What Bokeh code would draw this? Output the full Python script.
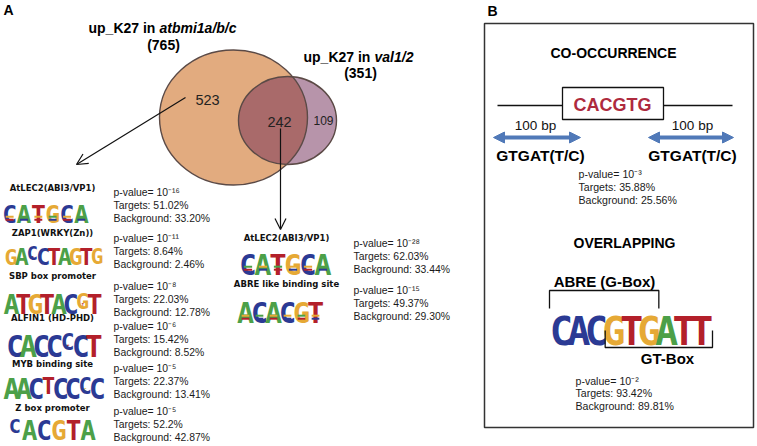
import numpy as np
from bokeh.plotting import figure
from bokeh.models import ColumnDataSource, Range1d, Arrow, OpenHead, NormalHead
from bokeh.core.properties import value, field
from bokeh.embed import file_html
from bokeh.resources import INLINE

# ---------------- data ----------------
venn_names = ["atbmi1a/b/c", "val1/2"]
venn_totals = [765, 351]
venn_only_a = 523
venn_both = 242
venn_only_b = 109

left_names = ["AtLEC2(ABI3/VP1)", "ZAP1(WRKY(Zn))", "SBP box promoter",
              "ALFIN1 (HD-PHD)", "MYB binding site", "Z box promoter"]
left_seqs = ["CATGCA", "GACCTAGTG", "ATGTACGT", "CACCCCT", "AACTCCCC", "CACGTA"]
left_heights = [[1, 1, 1, 1, 1, 1],
                [0.92, 1, 0.8, 1, 1, 1, 1, 1, 0.9],
                [1, 1, 1, 1, 1, 1, 0.82, 1],
                [1, 1, 1, 1, 0.78, 1, 1],
                [1, 1, 1, 0.8, 1, 1, 0.8, 1],
                [0.78, 1, 1, 1, 1, 1]]
left_subs = ["......", "..T......", "......T.", "....T..", "...A..G.", "G....."]
left_minor = [["GAGAGA", "TCTCTC"], None, None, None, None, None]
left_pexp = [-16, -11, -8, -6, -5, -5]
left_targets = ["51.02", "8.64", "22.03", "15.42", "22.37", "52.2"]
left_background = ["33.20", "2.46", "12.78", "8.52", "13.41", "42.87"]

mid_names = ["AtLEC2(ABI3/VP1)", "ABRE like binding site"]
mid_seqs = ["CATGCA", "ACACGT"]
mid_minor = [["AGAGGA", "TCTCTC"], ["GAGGAG", "TCTCTC"]]
mid_pexp = [-28, -15]
mid_targets = ["62.03", "49.37"]
mid_background = ["33.44", "29.30"]

co_title = "CO-OCCURRENCE"
co_core = "CACGTG"
co_flank = "GTGAT(T/C)"
co_dist = "100 bp"
co_pexp = -3
co_targets = "35.88"
co_background = "25.56"

ov_title = "OVERLAPPING"
ov_seq = "CACGTGATT"
ov_box1 = "ABRE (G-Box)"
ov_box2 = "GT-Box"
ov_box1_span = (0, 6)
ov_box2_span = (3, 9)
ov_pexp = -2
ov_targets = "93.42"
ov_background = "89.81"

# ---------------- styles ----------------
BLUE, GREEN, GOLD, RED = "#2B3A94", "#4CA048", "#E6A935", "#B3202A"
LETTER_COLORS = {"A": GREEN, "C": BLUE, "G": GOLD, "T": RED}
ov_colors = [BLUE, BLUE, BLUE, GOLD, RED, GOLD, GREEN, RED, RED]
LOGO_FONT = "DejaVu Sans Mono"
SANS = "Liberation Sans"
LABEL_FONT = "DejaVu Sans"
CAP = 0.729      # cap height / em of the logo font
INK = 0.50       # typical letter ink width / em of the logo font

W, H = 756, 445
p = figure(width=W, height=H, x_range=Range1d(0, W), y_range=Range1d(H, 0),
           output_backend="svg", toolbar_location=None, min_border=0,
           x_axis_type=None, y_axis_type=None)
p.outline_line_color = None
p.grid.visible = False
p.background_fill_color = "white"
p.border_fill_color = "white"

SUP = str.maketrans("-0123456789", "⁻⁰¹²³⁴⁵⁶⁷⁸⁹")


def pval(e):
    return "p-value= 10" + str(e).translate(SUP)


def txt(xs, ys, texts, size, color="#111111", style="normal", font=SANS,
        align="left", baseline="middle"):
    src = ColumnDataSource(dict(x=list(xs), y=list(ys), text=list(texts)))
    p.text(x="x", y="y", text="text", source=src, text_font=value(font),
           text_font_size=f"{size}px", text_font_style=style, text_color=color,
           text_align=align, text_baseline=baseline)


def stats(x, y, pe, tg, bg, size=10.4, step=12.8):
    txt([x, x, x], [y, y + step, y + 2 * step],
        [pval(pe), f"Targets: {tg}%", f"Background: {bg}%"], size, color="#1a1a1a")


def logo(seq, x0, x1, top, bot, heights=None, subs=None, colors=None, minor=None):
    n = len(seq)
    pitch = (x1 - x0) / n
    Hd = bot - top
    s_h = Hd / CAP
    s_w = pitch / INK
    s_full = min(s_h, np.exp(0.6 * np.log(s_h) + 0.4 * np.log(s_w)))
    cap = s_full * CAP
    base0 = bot - (Hd - cap) / 2
    rows = dict(x=[], y=[], text=[], color=[], size=[])

    def add(x, y, t, c, size):
        rows["x"].append(x); rows["y"].append(y); rows["text"].append(t)
        rows["color"].append(c); rows["size"].append(f"{size:.1f}px")

    for i, ch in enumerate(seq):
        cx = x0 + pitch * (i + 0.5)
        h = heights[i] if heights else 1.0
        s = subs[i] if subs else "."
        col = colors[i] if colors else LETTER_COLORS[ch]
        base = base0
        if s != ".":
            add(cx, base0, s, LETTER_COLORS[s], s_full * (1 - h) * 0.9)
            base = base0 - (1 - h) * cap
        add(cx, base, ch, col, s_full * h)
    p.text(x="x", y="y", text="text", source=ColumnDataSource(rows),
           text_color=field("color"), text_font_size=field("size"),
           text_font=value(LOGO_FONT), text_font_style="bold",
           text_align="center", text_baseline="alphabetic")
    if minor:
        mx, my, mc = [], [], []
        for r, rowstr in enumerate(minor):
            for i, ch in enumerate(rowstr):
                mx.append(x0 + pitch * (i + 0.5))
                my.append(bot + 2.2 + r * 3.0)
                mc.append(LETTER_COLORS[ch])
        p.rect(x=mx, y=my, width=pitch * 0.55, height=2.0, fill_color=mc, line_color=None)
    return pitch


# ---------------- panel labels ----------------
txt([3], [9], ["A"], 14, color="#000000", style="bold")
txt([487], [10], ["B"], 14, color="#000000", style="bold")

# ---------------- Venn ----------------
p.ellipse(x=[233], y=[117], width=[148], height=[135], fill_color="#E2AB7F",
          line_color=None)
p.ellipse(x=[287], y=[120], width=[98], height=[88], fill_color="#6F2A55",
          fill_alpha=0.5, line_color=None)
p.ellipse(x=[233, 287], y=[117, 120], width=[148, 98], height=[135, 88],
          fill_color=None, line_color="#5B4A46", line_width=1.4)

plain = "up_K27 in"
plain_w = 71.0
txt([88], [27], [plain], 14, color="#000000", style="bold")
txt([88 + plain_w], [27], [venn_names[0]], 14, color="#000000", style="bold italic")
txt([163], [44], [f"({venn_totals[0]})"], 14, color="#000000", style="bold", align="center")
txt([303], [56], [plain], 14, color="#000000", style="bold")
txt([303 + plain_w], [56], [venn_names[1]], 14, color="#000000", style="bold italic")
txt([360], [72], [f"({venn_totals[1]})"], 14, color="#000000", style="bold", align="center")

txt([207, 279], [99, 121], [str(venn_only_a), str(venn_both)], 14.5, color="#222222", align="center")
txt([323], [120], [str(venn_only_b)], 12, color="#222222", align="center")

p.add_layout(Arrow(end=OpenHead(size=11, line_width=1.2, line_color="#111111"),
                   x_start=185, y_start=97, x_end=76, y_end=164,
                   line_width=1.2, line_color="#111111"))
p.add_layout(Arrow(end=OpenHead(size=11, line_width=1.2, line_color="#111111"),
                   x_start=280, y_start=128, x_end=280, y_end=229,
                   line_width=1.2, line_color="#111111"))

# ---------------- left motif column ----------------
left_x0 = [2, 5, 5, 8, 5, 7]
left_x1 = [88, 102, 100, 100, 103, 95]
left_top = [196, 239, 284, 324, 368, 411]
left_bot = [214, 257, 305, 347, 390, 430]
left_label_y = [187, 232, 275, 317, 363, 407]
left_stat_y = [192, 238, 286, 326, 368, 411]

txt([52] * 6, left_label_y, left_names, 8.5, color="#111111", style="bold",
    font=LABEL_FONT, align="center")
for i in range(6):
    logo(left_seqs[i], left_x0[i], left_x1[i], left_top[i], left_bot[i],
         heights=left_heights[i], subs=left_subs[i], minor=left_minor[i])
    stats(113, left_stat_y[i], left_pexp[i], left_targets[i], left_background[i])

# ---------------- middle motif column ----------------
mid_x0 = [240, 238]
mid_x1 = [330, 322]
mid_top = [243, 292]
mid_bot = [264, 313]
mid_label_y = [237, 283]
mid_stat_y = [243, 290]
txt([286, 286], mid_label_y, mid_names, 8.5, color="#111111", style="bold",
    font=LABEL_FONT, align="center")
for i in range(2):
    logo(mid_seqs[i], mid_x0[i], mid_x1[i], mid_top[i], mid_bot[i], minor=mid_minor[i])
    stats(353, mid_stat_y[i], mid_pexp[i], mid_targets[i], mid_background[i])

# ---------------- panel B ----------------
p.quad(left=[484], right=[753], top=[23], bottom=[427], fill_color=None,
       line_color="#333333", line_width=1.5)

txt([613], [52], [co_title], 14, color="#000000", style="bold", align="center")
p.segment(x0=[497], y0=[105], x1=[732], y1=[105], line_color="#111111", line_width=1.3)
p.quad(left=[562], right=[663], top=[87], bottom=[119], fill_color="white",
       line_color="#111111", line_width=1.3)
txt([612], [104], [co_core], 18, color="#AE2A3E", style="bold", align="center")
txt([535, 692], [125, 125], [co_dist, co_dist], 13.5, color="#111111", align="center")
for xa, xb in [(493, 580), (648, 733)]:
    p.add_layout(Arrow(start=NormalHead(size=11, fill_color="#5079B8", line_color="#5079B8"),
                       end=NormalHead(size=11, fill_color="#5079B8", line_color="#5079B8"),
                       x_start=xa, y_start=137, x_end=xb, y_end=137,
                       line_width=4, line_color="#5079B8"))
txt([540, 692], [155, 155], [co_flank, co_flank], 15.5, color="#000000", style="bold", align="center")
stats(578, 173, co_pexp, co_targets, co_background, size=10.6, step=13)

txt([624], [242], [ov_title], 14, color="#000000", style="bold", align="center")
ox0, ox1 = 552, 710
pitch = logo(ov_seq, ox0, ox1, 302, 332, colors=ov_colors)
ua = ox0 + pitch * ov_box1_span[0] - 3
ub = ox0 + pitch * ov_box1_span[1] + 1
la = ox0 + pitch * ov_box2_span[0]
lb = ox0 + pitch * ov_box2_span[1] + 2
p.multi_line(xs=[[ua, ua, ub, ub], [la, la, lb, lb]],
             ys=[[308, 290, 290, 308], [330, 347, 347, 330]],
             line_color="#111111", line_width=1.3)
txt([604], [281], [ov_box1], 15, color="#000000", style="bold", align="center")
txt([667], [358], [ov_box2], 15, color="#000000", style="bold", align="center")
stats(575, 380, ov_pexp, ov_targets, ov_background, size=10.6, step=12.8)

open("out.html", "w").write(file_html(p, INLINE))
